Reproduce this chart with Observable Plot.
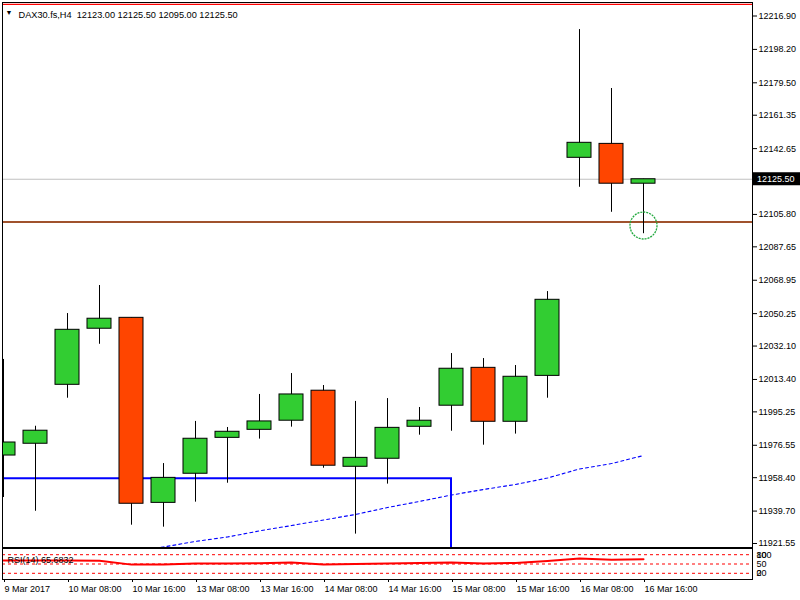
<!DOCTYPE html>
<html><head><meta charset="utf-8">
<script src="https://cdn.jsdelivr.net/npm/d3@7"></script>
<script src="https://cdn.jsdelivr.net/npm/@observablehq/plot@0.6"></script>
<style>
body{margin:0;background:#fff}
#wrap{position:relative;width:800px;height:600px;overflow:hidden}
#wrap svg{position:absolute;left:0}
</style>
</head><body><div id="wrap"></div>
<script>
// ---- data ----
const symbolTitle = "DAX30.fs,H4  12123.00 12125.50 12095.00 12125.50";
const barIndex = [0,1,2,3,4,5,6,7,8,9,10,11,12,13,14,15,16,17,18,19,20];
const opens  = [11970.8,11977.4,12010.4,12041.8,12047.9,11944.3,11960.6,11980.7,11985.2,11990.3,12007.1,11964.5,11969.0,11986.9,11998.7,12019.9,11989.7,12015.4,12137.5,12145.3,12123.0];
const highs  = [12024.6,11987.2,12050.3,12066.0,12047.9,11966.3,11989.9,11986.5,12005.0,12016.7,12010.0,12001.1,12002.7,11997.7,12027.9,12025.1,12021.2,12062.6,12209.3,12176.3,12125.5];
const lows   = [11947.3,11939.6,12002.9,12033.1,11931.8,11930.7,11944.7,11955.3,11980.0,11986.7,11963.7,11926.8,11954.8,11982.2,11984.4,11976.6,11982.8,12002.9,12121.0,12107.0,12095.0];
const closes = [11978.1,11984.7,12041.2,12047.4,11943.8,11958.3,11980.2,11984.1,11989.9,12005.0,11965.1,11969.5,11986.3,11990.3,12019.4,11989.7,12014.9,12058.0,12145.9,12123.0,12125.5];
const maIndex  = [4,5,6,7,8,9,10,11,12,13,14,15,16,17,18,19,20];
const maValues = [11916.5,11919.6,11922.7,11925.2,11928.6,11931.6,11934.7,11937.8,11941.7,11945.1,11948.7,11951.8,11954.6,11958.2,11963.3,11966.3,11970.8];
const rsiValues = [61.1,61,61,60.5,48,48,51.3,51.3,52.5,54.5,48,50,51.3,53,54.5,51.3,53.5,60,68,64,65.68];
const rsiTitle = "RSI(14) 65.6832";
const rsiLevels = [80,50,20];
const rsiLevelLabels = ["100","80","50","0","20"];
const rsiLevelLabelAt = [80,80,50,20,20];
const priceTicks = [12216.90,12198.20,12179.50,12161.35,12142.65,12105.80,12087.65,12068.95,12050.25,12032.10,12013.40,11995.25,11976.55,11958.40,11939.70,11921.55];
const timeTickIndex = [0,2,4,6,8,10,12,14,16,18,20];
const timeLabels = ["9 Mar 2017","10 Mar 08:00","10 Mar 16:00","13 Mar 08:00","13 Mar 16:00","14 Mar 08:00","14 Mar 16:00","15 Mar 08:00","15 Mar 16:00","16 Mar 08:00","16 Mar 16:00"];
const lastPrice = 12125.50;
const supportLevel = 12101.5;
const topLevel = 12223.4;
const boxTop = 11957.8, boxBottom = 11850, boxLeftIndex = -4, boxRightIndex = 14;
const circleIndex = 20, circlePrice = 12099.6;

// ---- build ----
const candles = barIndex.map((i,k)=>({i, o:opens[k], h:highs[k], l:lows[k], c:closes[k]}));
const ma = maIndex.map((i,k)=>({i, v:maValues[k]}));
const rsi = barIndex.map((i,k)=>({i, v:rsiValues[k]}));
const xDomain = [-1/32, 749/32];
const half = 12/32;
const FONT = "Liberation Sans";
const font = {fontFamily:FONT, fontSize:"9px", background:"transparent", overflow:"visible"};

const main = Plot.plot({
  width: 800, height: 548,
  marginLeft: 2, marginRight: 48, marginTop: 2, marginBottom: 1,
  style: font,
  x: {type:"linear", domain: xDomain, axis: null},
  y: {domain: [11919.31, 12224.46], axis: null},
  marks: [
    Plot.ruleY([topLevel], {stroke:"#ff0000", strokeWidth:1.2}),
    Plot.ruleY([lastPrice], {stroke:"#c0c0c0", strokeWidth:1}),
    Plot.ruleY([supportLevel], {stroke:"#a0522d", strokeWidth:2}),
    Plot.rect([{a:boxLeftIndex,b:boxRightIndex,t:boxTop,u:boxBottom}], {x1:"a", x2:"b", y1:"u", y2:"t", fill:"none", stroke:"#0000ff", strokeWidth:2, clip:true}),
    Plot.line(ma, {x:"i", y:"v", stroke:"#0000ff", strokeWidth:1.1, strokeDasharray:"3,3", clip:true}),
    Plot.ruleX(candles, {x:"i", y1:"l", y2:"h", stroke:"#000", strokeWidth:1, clip:true}),
    Plot.rect(candles, {x1:d=>d.i-half, x2:d=>d.i+half, y1:d=>Math.min(d.o,d.c), y2:d=>Math.max(d.o,d.c),
      fill:d=>d.c>=d.o?"#32cd32":"#ff4500", stroke:"#000", strokeWidth:1, clip:true}),
    Plot.dot([{i:circleIndex, v:circlePrice}], {x:"i", y:"v", r:13.5, stroke:"#1fa83c", strokeWidth:1.3, strokeDasharray:"2,1", fill:"none"}),
    Plot.frame({stroke:"#000"}),
    Plot.axisY({anchor:"right", ticks: priceTicks, tickFormat: d3.format(".2f"), tickSize:4, tickPadding:2, label:null, fill:"#000", fontSize:9}),
    Plot.text(["\u25BC"], {frameAnchor:"top-left", dx:3, dy:8, textAnchor:"start", fontSize:7, fill:"#000"}),
    Plot.text([symbolTitle], {frameAnchor:"top-left", dx:16, dy:8.5, textAnchor:"start", fill:"#000", fontSize:9.2})
  ]
});
main.style.top = "0px";

const sub = Plot.plot({
  width: 800, height: 52,
  marginLeft: 2, marginRight: 48, marginTop: 0, marginBottom: 21,
  style: font,
  x: {type:"linear", domain: xDomain, axis: null},
  y: {domain: [0,100], axis: null},
  marks: [
    Plot.ruleY(rsiLevels, {stroke:"#ff0000", strokeWidth:1, strokeDasharray:"3,3"}),
    Plot.line(rsi, {x:"i", y:"v", stroke:"#ff0000", strokeWidth:2, clip:true}),
    Plot.text([rsiTitle], {frameAnchor:"top-left", dx:5, dy:8, textAnchor:"start", fill:"#000", fontSize:9}),
    Plot.frame({stroke:"#000"}),
    Plot.text(rsiLevelLabels, {y:(d,k)=>rsiLevelLabelAt[k], frameAnchor:"right", dx:4, textAnchor:"start", fill:"#000", fontSize:9}),
    Plot.axisX({ticks: timeTickIndex, tickFormat: (d)=>timeLabels[timeTickIndex.indexOf(d)], textAnchor:"start", tickSize:3, tickPadding:3, dx:1, label:null, fill:"#000", fontSize:9})
  ]
});
sub.style.top = "548px";

const wrap = document.getElementById("wrap");
wrap.appendChild(main);
wrap.appendChild(sub);

// current price label on the price scale
const yPix = main.scale("y").apply(lastPrice);
const svg = d3.select(main);
const g = svg.append("g").attr("text-anchor", "start");
g.append("rect").attr("x", 753).attr("y", yPix - 6.5).attr("width", 47).attr("height", 13).attr("fill", "#000");
g.append("text").attr("x", 757).attr("y", yPix).attr("dy", "0.35em").attr("text-anchor", "start")
  .attr("fill", "#fff").attr("font-family", FONT).attr("font-size", 9)
  .text(d3.format(".2f")(lastPrice));
</script>
</body></html>
